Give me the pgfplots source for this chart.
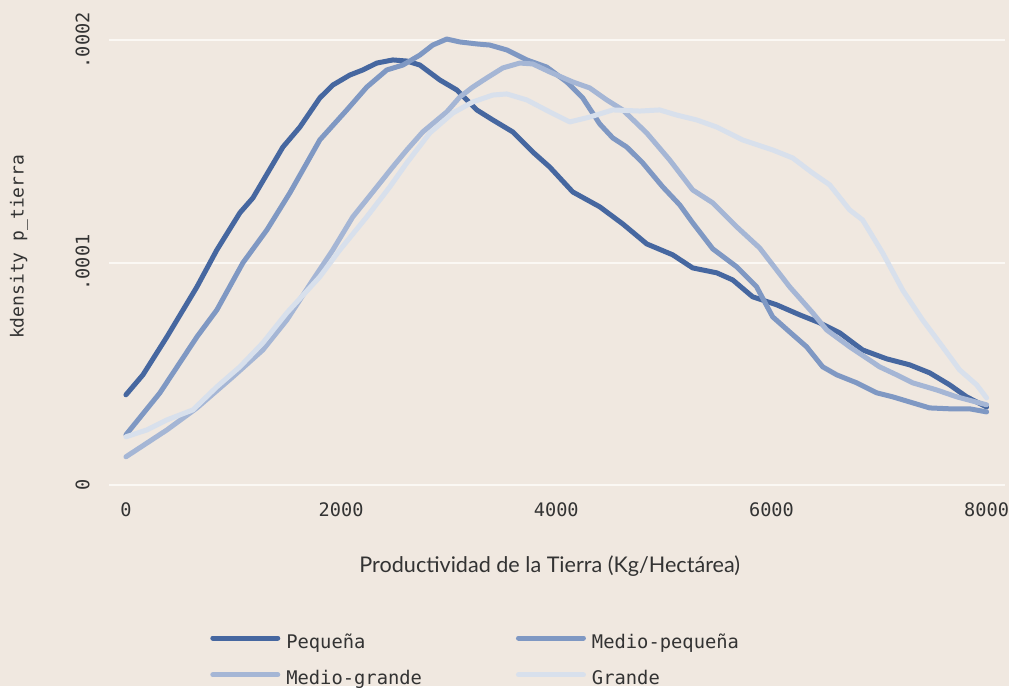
\documentclass[border=0pt]{standalone}
\usepackage{fontspec}
\setmainfont{Lato}
\setmonofont{DejaVu Sans Mono}
\usepackage{pgfplots}
\pgfplotsset{compat=1.18}
\definecolor{bg}{HTML}{F0E8E0}
\definecolor{gridc}{HTML}{FBF8F4}
\definecolor{txt}{HTML}{333333}
\definecolor{c1}{HTML}{4667A0}
\definecolor{c2}{HTML}{7F98C3}
\definecolor{c3}{HTML}{A5B6D5}
\definecolor{c4}{HTML}{D8E0EC}
\begin{document}
\begin{tikzpicture}
\fill[bg] (-54.5pt,-96.5pt) rectangle (450pt,246.5pt);
\begin{axis}[
  at={(0pt,0pt)}, anchor=south west,
  scale only axis, width=448pt, height=237.5pt,
  xmin=-158, xmax=8167, ymin=-0.036, ymax=2.1008,
  axis line style={draw=none},
  major tick length=0pt,
  xtick={0,2000,4000,6000,8000},
  xticklabels={0,2000,4000,6000,8000},
  ytick={0,1,2},
  yticklabels={0,.0001,.0002},
  ymajorgrids, major grid style={gridc, line width=1pt},
  tick label style={font=\ttfamily\fontsize{9.3}{11}\selectfont, text=txt},
  xticklabel style={anchor=north, inner sep=0pt, yshift=-5pt},
  yticklabel style={rotate=90, anchor=south, inner sep=0pt, yshift=9.5pt},
  xlabel={Productividad de la Tierra (Kg/Hectárea)},
  xlabel style={at={(axis description cs:0.4922,-0.1537)}, anchor=center, font=\fontsize{10.8}{13}\selectfont, text=txt},
  ylabel={kdensity p\_tierra},
  ylabel style={at={(axis description cs:-0.1004,0.5179)}, anchor=center, rotate=0, font=\ttfamily\fontsize{9}{11}\selectfont, text=txt},
  legend columns=2,
  legend cell align=left,
  legend image code/.code={\draw[#1, line cap=round] (0pt,2.2pt) -- (32.5pt,2.2pt);},
  legend style={at={(axis description cs:0.1127,-0.3537)}, anchor=west, draw=none, fill=none,
    font=\ttfamily\fontsize{9.4}{11}\selectfont, text=txt, inner sep=0pt, row sep=5.7pt,
    /tikz/every odd column/.append style={column sep=1pt},
    /tikz/every even column/.append style={column sep=45pt}},
  every axis plot/.append style={line width=2.5pt, line join=round, line cap=round},
]
\addplot[c1] coordinates {
(0,0.405) (158,0.495) (381,0.666) (660,0.891) (845,1.057) (1059,1.224) (1180,1.291)
(1459,1.520) (1617,1.610) (1802,1.741) (1923,1.799) (2081,1.844) (2202,1.867) (2332,1.898)
(2481,1.912) (2611,1.907) (2732,1.889) (2917,1.822) (3075,1.777) (3261,1.687) (3410,1.642)
(3596,1.588) (3781,1.498) (3939,1.430) (4153,1.318) (4404,1.251) (4618,1.174) (4841,1.084)
(5082,1.035) (5268,0.976) (5491,0.954) (5640,0.922) (5825,0.846) (6048,0.810) (6262,0.765)
(6448,0.729) (6634,0.684) (6847,0.607) (7070,0.567) (7284,0.540) (7470,0.504) (7656,0.450)
(7814,0.396) (8000,0.350)
};
\addlegendentry{Pequeña}
\addplot[c2] coordinates {
(0,0.225) (316,0.414) (660,0.666) (845,0.787) (1087,0.999) (1310,1.147) (1524,1.314)
(1682,1.449) (1802,1.552) (2053,1.687) (2239,1.790) (2425,1.867) (2574,1.889) (2732,1.934)
(2852,1.979) (2982,2.006) (3103,1.993) (3261,1.984) (3382,1.979) (3540,1.957) (3726,1.912)
(3911,1.880) (4097,1.813) (4246,1.741) (4404,1.624) (4525,1.561) (4655,1.520) (4803,1.449)
(4989,1.341) (5147,1.260) (5268,1.179) (5454,1.062) (5677,0.981) (5862,0.891) (6011,0.756)
(6169,0.688) (6327,0.621) (6476,0.531) (6606,0.495) (6792,0.459) (6978,0.414) (7126,0.396)
(7284,0.373) (7470,0.346) (7656,0.342) (7842,0.342) (8000,0.328)
};
\addlegendentry{Medio-pequeña}
\addplot[c3] coordinates {
(0,0.126) (381,0.247) (660,0.346) (994,0.486) (1273,0.607) (1496,0.742) (1737,0.922)
(1923,1.057) (2109,1.206) (2295,1.318) (2481,1.431) (2611,1.507) (2759,1.588) (2982,1.678)
(3103,1.745) (3224,1.790) (3354,1.831) (3503,1.876) (3661,1.898) (3781,1.894) (3939,1.858)
(4153,1.813) (4311,1.786) (4469,1.732) (4618,1.687) (4841,1.583) (5054,1.462) (5268,1.327)
(5454,1.269) (5677,1.161) (5890,1.066) (6169,0.891) (6383,0.774) (6513,0.697) (6727,0.621)
(7005,0.531) (7163,0.495) (7312,0.459) (7535,0.427) (7721,0.396) (8000,0.360)
};
\addlegendentry{Medio-grande}
\addplot[c4] coordinates {
(0,0.216) (195,0.247) (381,0.292) (622,0.337) (845,0.441) (1059,0.531) (1273,0.639)
(1496,0.774) (1802,0.936) (1988,1.057) (2239,1.206) (2453,1.341) (2611,1.449) (2824,1.583)
(3038,1.673) (3224,1.723) (3410,1.754) (3540,1.759) (3726,1.732) (3939,1.678) (4125,1.633)
(4311,1.655) (4525,1.687) (4776,1.682) (4961,1.687) (5119,1.664) (5305,1.642) (5491,1.610)
(5732,1.552) (6011,1.507) (6197,1.471) (6383,1.403) (6541,1.350) (6727,1.237) (6847,1.192)
(7033,1.044) (7219,0.877) (7405,0.742) (7591,0.621) (7749,0.517) (7907,0.450) (8000,0.391)
};
\addlegendentry{Grande}
\end{axis}
\end{tikzpicture}
\end{document}
